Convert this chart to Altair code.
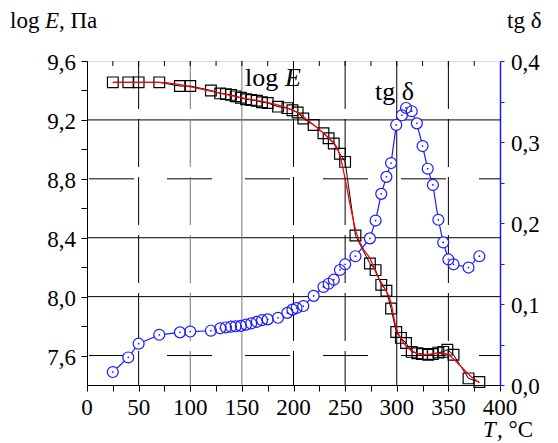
import altair as alt
import pandas as pd

# ---- data ----
T_E = [25, 40, 50, 70, 90, 100, 120, 129, 134.5, 139.5, 144, 149, 154, 159, 164.5, 169.5, 175,
       185, 194, 199, 204, 209.5, 219.5, 229, 234, 239, 245, 250, 260, 274, 279.5, 285, 290,
       294.5, 299.5, 304, 309, 314.5, 320, 324.5, 330.5, 335, 340.3, 345, 349, 355, 369.5, 380]
logE = [9.455, 9.455, 9.455, 9.455, 9.43, 9.43, 9.40, 9.38, 9.375, 9.37, 9.36, 9.35, 9.34, 9.335,
        9.33, 9.32, 9.315, 9.29, 9.28, 9.265, 9.25, 9.21, 9.165, 9.11, 9.075, 9.04, 8.97, 8.915,
        8.415, 8.225, 8.18, 8.08, 8.04, 7.92, 7.76, 7.72, 7.685, 7.625, 7.615, 7.61, 7.605, 7.61,
        7.62, 7.625, 7.64, 7.605, 7.445, 7.42]

T_fit = [25, 50, 70, 90, 110, 130, 150, 170, 190, 205, 215, 225, 235, 242, 246, 250, 255, 261,
         267, 274, 281, 288, 294, 299, 305, 313, 320, 326, 333, 339, 345, 349, 353, 361, 370, 380]
logE_fit = [9.455, 9.455, 9.455, 9.44, 9.41, 9.38, 9.35, 9.325, 9.29, 9.245, 9.19, 9.135, 9.07,
            9.015, 8.93, 8.80, 8.62, 8.43, 8.33, 8.26, 8.145, 8.06, 7.97, 7.80, 7.705, 7.64,
            7.615, 7.605, 7.61, 7.615, 7.615, 7.61, 7.59, 7.535, 7.47, 7.415]

T_tg = [25, 40, 50, 70, 90, 100, 120, 129, 134.5, 139.5, 144, 149, 154, 159, 164.5, 169.5, 175,
        185, 194, 199, 203, 209.5, 219.5, 229, 234, 239, 245, 250, 260, 274, 279.5, 285, 290,
        294.5, 299.5, 305, 309, 314.5, 319.5, 325, 330, 335, 340.3, 345, 350, 355, 369.5, 380]
tgd = [0.016, 0.034, 0.051, 0.062, 0.065, 0.066, 0.067, 0.070, 0.071, 0.072, 0.0725, 0.073,
       0.0745, 0.076, 0.078, 0.080, 0.081, 0.083, 0.089, 0.093, 0.095, 0.0975, 0.110, 0.121,
       0.125, 0.130, 0.142, 0.149, 0.159, 0.181, 0.203, 0.236, 0.257, 0.274, 0.321, 0.333,
       0.342, 0.338, 0.323, 0.295, 0.267, 0.247, 0.204, 0.176, 0.155, 0.149, 0.145, 0.159]

# ticks and tick labels
x_ticks = list(range(0, 401, 25))
top_ticks = list(range(25, 400, 25))
x_label_vals = [0, 50, 100, 150, 200, 250, 300, 350, 400]
yL_ticks = [7.6, 7.8, 8.0, 8.2, 8.4, 8.6, 8.8, 9.0, 9.2, 9.4, 9.6]
yL_label_vals = [7.6, 8.0, 8.4, 8.8, 9.2, 9.6]
yR_ticks = [0.0, 0.05, 0.1, 0.15, 0.2, 0.25, 0.3, 0.35, 0.4]
yR_label_vals = [0.0, 0.1, 0.2, 0.3, 0.4]
grid_h_solid = [9.2, 8.4, 8.0]
grid_h_dashed = [8.8, 7.6]
grid_v_dashed_black = [50, 200, 250, 350]
grid_v_dashed_gray = [100]
grid_v_solid_gray = [150]
grid_v_solid_black = [300]

FONT = "Liberation Serif"
BLUE = "#1a1aff"
LSIZE = 23


def comma(v):
    return f"{v:.1f}".replace(".", ",")


df_E = pd.DataFrame({"T": T_E, "v": logE})
df_fit = pd.DataFrame({"T": T_fit, "v": logE_fit})
df_tg = pd.DataFrame({"T": T_tg, "tg": tgd})

x_scale = alt.Scale(domain=[0, 400], nice=False, zero=False)
yL_scale = alt.Scale(domain=[7.4, 9.6], nice=False, zero=False)
yR_scale = alt.Scale(domain=[0, 0.4], nice=False, zero=False)

x_axis = alt.Axis(values=x_ticks, labels=False, title=None, grid=False, tickSize=6,
                  domainColor="black", tickColor="black")
yL_axis = alt.Axis(values=yL_ticks, labels=False, title=None, grid=False, tickSize=6,
                   domainColor="black", tickColor="black")
yR_axis = alt.Axis(values=yR_ticks, orient="right", labels=False, title=None, grid=False,
                   tickSize=4, domainColor=BLUE, tickColor=BLUE, domainWidth=1.5)

X = alt.X("T:Q", scale=x_scale, axis=x_axis)
YL = alt.Y("v:Q", scale=yL_scale, axis=yL_axis)
YR = alt.Y("tg:Q", scale=yR_scale, axis=yR_axis)


def hrule(vals, dash, color):
    d = pd.DataFrame({"v": vals})
    kw = dict(color=color, strokeWidth=1)
    if dash:
        kw.update(strokeDash=dash, strokeDashOffset=24)
    return alt.Chart(d).mark_rule(**kw).encode(y=YL)


def vrule(vals, dash, color):
    d = pd.DataFrame({"T": vals})
    kw = dict(color=color, strokeWidth=1)
    if dash:
        kw.update(strokeDash=dash)
    return alt.Chart(d).mark_rule(**kw).encode(x=X)


grid = [
    hrule(grid_h_solid, None, "black"),
    hrule(grid_h_dashed, [45, 33], "black"),
    vrule(grid_v_dashed_black, [48, 10], "black"),
    vrule(grid_v_dashed_gray, [48, 10], "#777777"),
    vrule(grid_v_solid_gray, None, "#777777"),
    vrule(grid_v_solid_black, None, "black"),
]

top = alt.Chart(pd.DataFrame({"T": top_ticks})).mark_rule(color="black", strokeWidth=1).encode(
    x=X, y=alt.value(0), y2=alt.value(5))

# tick labels as text marks (serif font)
x_labels = alt.Chart(pd.DataFrame({"T": x_label_vals, "lab": [str(v) for v in x_label_vals]})
                     ).mark_text(font=FONT, fontSize=LSIZE, align="center", baseline="alphabetic",
                                 color="black").encode(x=X, y=alt.value(354), text="lab:N")
yL_labels = alt.Chart(pd.DataFrame({"v": yL_label_vals, "lab": [comma(v) for v in yL_label_vals]})
                      ).mark_text(font=FONT, fontSize=LSIZE, align="right", baseline="middle",
                                  dy=2, color="black").encode(x=alt.value(-11), y=YL, text="lab:N")
yR_labels = alt.Chart(pd.DataFrame({"tg": yR_label_vals, "lab": [comma(v) for v in yR_label_vals]})
                      ).mark_text(font=FONT, fontSize=LSIZE, align="left", baseline="middle",
                                  dy=2, color="black").encode(x=alt.value(424), y=YR, text="lab:N")

E_line = alt.Chart(df_E).mark_line(color="black", strokeWidth=1).encode(x=X, y=YL)
E_pts = alt.Chart(df_E).mark_point(shape="square", size=115, color="black", filled=False,
                                   strokeWidth=1.2, opacity=1).encode(x=X, y=YL)
fit_line = alt.Chart(df_fit).mark_line(color="#ff0000", strokeWidth=1.3,
                                       interpolate="monotone").encode(x=X, y=YL)


def txt(s, x, y, size, italic=False):
    return alt.Chart(pd.DataFrame({"a": [0]})).mark_text(
        text=s, font=FONT, fontSize=size, fontStyle="italic" if italic else "normal",
        align="left", baseline="alphabetic", color="black").encode(
        x=alt.value(x), y=alt.value(y))


texts = [
    txt("log", -77, -33, 23), txt("E", -42, -33, 23, True), txt(", Па", -28, -33, 23),
    txt("tg δ", 420, -33, 23),
    txt("T", 396, 376, 23, True), txt(", °C", 410, 376, 23),
    txt("log", 158, 25, 26), txt("E", 198, 25, 26, True),
    txt("tg δ", 288, 39, 26),
]

left = alt.layer(*grid, top, E_line, E_pts, fit_line, x_labels, yL_labels, *texts)

tg_line = alt.Chart(df_tg).mark_line(color=BLUE, strokeWidth=1.2).encode(x=X, y=YR)
tg_fill = alt.Chart(df_tg).mark_point(shape="circle", size=120, filled=True, color="white",
                                      opacity=1).encode(x=X, y=YR)
tg_circ = alt.Chart(df_tg).mark_point(shape="circle", size=120, filled=False, color=BLUE,
                                      strokeWidth=1.2, opacity=1).encode(x=X, y=YR)
tg_dot = alt.Chart(df_tg).mark_point(shape="circle", size=3, filled=True, color=BLUE,
                                     opacity=1).encode(x=X, y=YR)
right = alt.layer(tg_line, tg_fill, tg_circ, tg_dot, yR_labels)

chart = alt.layer(left, right).resolve_scale(y="independent").properties(
    width=413, height=324,
    autosize=alt.AutoSizeParams(type="none"),
    padding={"left": 79, "top": 53, "right": 50, "bottom": 58},
).configure_view(stroke="black", strokeWidth=1).configure(background="white")

chart.save("out.html", embed_options={"renderer": "svg", "actions": False})
